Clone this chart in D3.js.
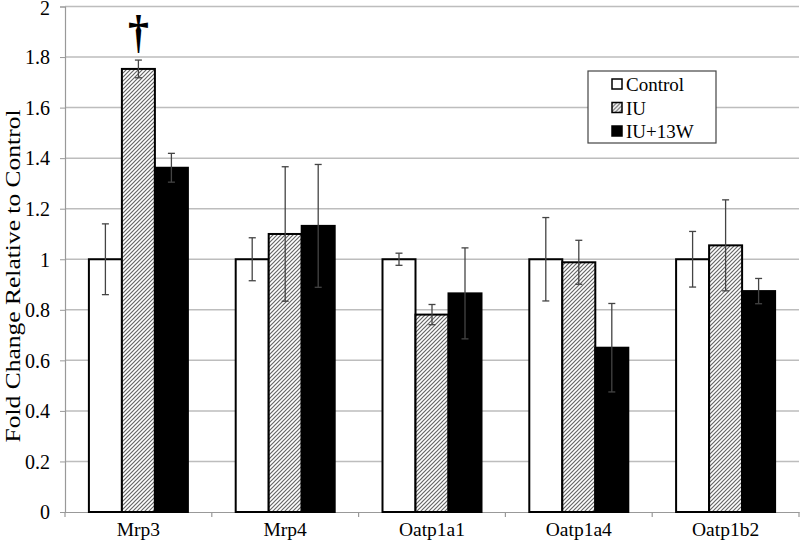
<!DOCTYPE html>
<html>
<head>
<meta charset="utf-8">
<script src="https://cdn.jsdelivr.net/npm/d3@7"></script>
<style>
  body { margin: 0; background: #fff; }
  svg text { font-family: "Liberation Serif", "Times New Roman", serif; fill: #000; }
</style>
</head>
<body>
<svg id="chart" width="800" height="545"></svg>
<script>
// data
var genes = ['Mrp3', 'Mrp4', 'Oatp1a1', 'Oatp1a4', 'Oatp1b2'];
var groups = ['Control', 'IU', 'IU+13W'];
var controlVals = [1.0, 1.0, 1.0, 1.0, 1.0];
var controlErr  = [0.14, 0.085, 0.024, 0.165, 0.11];
var iuVals      = [1.753, 1.10, 0.781, 0.988, 1.055];
var iuErr       = [0.035, 0.266, 0.04, 0.087, 0.18];
var iu13Vals    = [1.362, 1.132, 0.865, 0.65, 0.874];
var iu13Err     = [0.057, 0.243, 0.18, 0.175, 0.05];
var yTicks = [0, 0.2, 0.4, 0.6, 0.8, 1, 1.2, 1.4, 1.6, 1.8, 2];

var svg = d3.select('#chart');
var x0 = 65, x1 = 799, yBottom = 512, yTop = 6.5;

var x = d3.scaleBand().domain(genes).range([x0, x1]);
var y = d3.scaleLinear().domain([0, 2]).range([yBottom, yTop]);

var defs = svg.append('defs');
var pat = defs.append('pattern')
    .attr('id', 'hatch')
    .attr('patternUnits', 'userSpaceOnUse')
    .attr('width', 4).attr('height', 4);
pat.append('rect').attr('width', 4).attr('height', 4).attr('fill', '#fff');
pat.append('path')
    .attr('d', 'M-1,1 l2,-2 M0,4 l4,-4 M3,5 l2,-2')
    .attr('stroke', '#666').attr('stroke-width', 1.2);

var fills = {'Control': '#fff', 'IU': 'url(#hatch)', 'IU+13W': '#000'};

// gridlines
svg.append('g').selectAll('line')
    .data(yTicks.filter(function(t) { return t > 0; }))
    .enter().append('line')
    .attr('x1', x0).attr('x2', x1)
    .attr('y1', function(t) { return y(t); })
    .attr('y2', function(t) { return y(t); })
    .attr('stroke', '#bdbdbd').attr('stroke-width', 1.5);

// y axis
var yAxis = svg.append('g')
    .attr('transform', 'translate(' + x0 + ',0)')
    .call(d3.axisLeft(y).tickValues(yTicks).tickFormat(d3.format('~g')).tickSize(5).tickPadding(10));
yAxis.select('.domain').attr('stroke', '#999').attr('stroke-width', 1.2);
yAxis.selectAll('.tick line').attr('stroke', '#999');
yAxis.selectAll('text').style('font-size', '20px')
    .attr('dy', function(t) { return t === 2 ? '0.42em' : '0.34em'; });

// x axis
var xAxis = svg.append('g')
    .attr('transform', 'translate(0,' + yBottom + ')')
    .call(d3.axisBottom(x).tickSize(0).tickPadding(10).tickSizeOuter(0));
xAxis.select('.domain').attr('stroke', '#999').attr('stroke-width', 1.2);
xAxis.selectAll('text').style('font-size', '19.5px');
// tick marks at band boundaries
svg.append('g').selectAll('line')
    .data(d3.range(genes.length + 1))
    .enter().append('line')
    .attr('x1', function(i) { return x0 + i * x.step(); })
    .attr('x2', function(i) { return x0 + i * x.step(); })
    .attr('y1', yBottom).attr('y2', yBottom + 5)
    .attr('stroke', '#999').attr('stroke-width', 1.2);

// bars
var rows = genes.map(function(g, i) {
    return [
        {gene: g, group: 'Control', v: controlVals[i], e: controlErr[i]},
        {gene: g, group: 'IU', v: iuVals[i], e: iuErr[i]},
        {gene: g, group: 'IU+13W', v: iu13Vals[i], e: iu13Err[i]}
    ];
});
var flat = d3.merge(rows);

var bw = 33;
var offset = function(d) {
    var gi = groups.indexOf(d.group);
    return x(d.gene) + x.bandwidth() / 2 + (gi - 1.5) * bw;
};

svg.append('g').selectAll('rect')
    .data(flat)
    .enter().append('rect')
    .attr('x', offset)
    .attr('y', function(d) { return y(d.v); })
    .attr('width', bw)
    .attr('height', function(d) { return yBottom - y(d.v); })
    .attr('fill', function(d) { return fills[d.group]; })
    .attr('stroke', '#000').attr('stroke-width', 2);

// error bars
var eb = svg.append('g').selectAll('g')
    .data(flat)
    .enter().append('g')
    .attr('stroke', '#444').attr('stroke-width', 1.3);
eb.append('line')
    .attr('x1', function(d) { return offset(d) + bw / 2; })
    .attr('x2', function(d) { return offset(d) + bw / 2; })
    .attr('y1', function(d) { return y(d.v + d.e); })
    .attr('y2', function(d) { return y(d.v - d.e); });
eb.selectAll('.cap')
    .data(function(d) { return [d.v + d.e, d.v - d.e].map(function(v) { return {d: d, v: v}; }); })
    .enter().append('line')
    .attr('x1', function(c) { return offset(c.d) + bw / 2 - 3.5; })
    .attr('x2', function(c) { return offset(c.d) + bw / 2 + 3.5; })
    .attr('y1', function(c) { return y(c.v); })
    .attr('y2', function(c) { return y(c.v); });

// dagger over Mrp3 IU
var dag = flat[1];
svg.append('text')
    .attr('transform', 'translate(' + (offset(dag) + bw / 2) + ',47) scale(1,1.1)')
    .attr('text-anchor', 'middle')
    .style('font-size', '42px')
    .style('font-weight', 'bold')
    .text('\u2020');

// y title
svg.append('text')
    .attr('transform', 'translate(20,' + 276 + ') rotate(-90)')
    .attr('text-anchor', 'middle')
    .attr('textLength', 333)
    .attr('lengthAdjust', 'spacingAndGlyphs')
    .style('font-size', '20px')
    .text('Fold Change Relative to Control');

// legend
var leg = svg.append('g').attr('transform', 'translate(588,71)');
leg.append('rect')
    .attr('width', 128).attr('height', 72)
    .attr('fill', '#fff').attr('stroke', '#444').attr('stroke-width', 1.2);
var items = leg.selectAll('.item')
    .data(groups)
    .enter().append('g')
    .attr('transform', function(d, i) { return 'translate(24,' + (13 + i * 23.5) + ')'; });
items.append('rect')
    .attr('x', 0).attr('y', -5)
    .attr('width', 10).attr('height', 10)
    .attr('fill', function(d) { return fills[d]; })
    .attr('stroke', '#000').attr('stroke-width', 1.5);
items.append('text')
    .attr('x', 14).attr('y', 7)
    .style('font-size', '19px')
    .text(function(d) { return d; });
</script>
</body>
</html>
